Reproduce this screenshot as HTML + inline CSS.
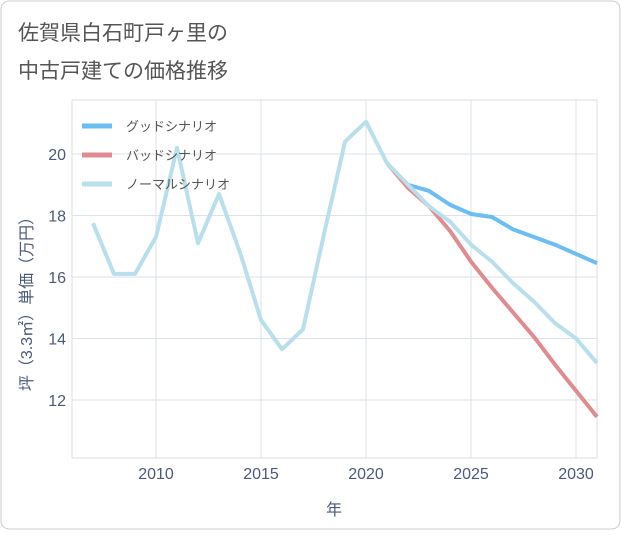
<!DOCTYPE html>
<html><head><meta charset="utf-8"><style>
body{margin:0;background:#fff;font-family:"Liberation Sans","Noto Sans CJK JP",sans-serif}
svg text{font-family:"Liberation Sans","Noto Sans CJK JP",sans-serif}
</style></head><body>
<svg id="c" width="621" height="530" xmlns="http://www.w3.org/2000/svg">
<rect x="1" y="1" width="619" height="528" rx="8" fill="#fff" stroke="#ccc"/>
<text x="18" y="40" font-size="21" fill="#555">佐賀県白石町戸ヶ里の</text>
<text x="18" y="78" font-size="21" fill="#555">中古戸建ての価格推移</text>
<rect x="72" y="100" width="525" height="358" fill="#fff" stroke="#ddd"/>
<g id="grid"></g><g id="series"></g>
<text x="334" y="515" font-size="16" fill="#4a5a78" text-anchor="middle">年</text>
<text transform="translate(32,300) rotate(-90)" font-size="16" fill="#4a5a78" text-anchor="middle">坪（3.3㎡）単価（万円）</text>
<g>
<line x1="82" y1="126" x2="112" y2="126" stroke="#6bbdf3" stroke-width="5"/>
<text x="126" y="131" font-size="13" fill="#555">グッドシナリオ</text>
<line x1="82" y1="155" x2="112" y2="155" stroke="#df8b8f" stroke-width="5"/>
<text x="126" y="160" font-size="13" fill="#555">バッドシナリオ</text>
<line x1="82" y1="184" x2="112" y2="184" stroke="#b9dfec" stroke-width="5"/>
<text x="126" y="189" font-size="13" fill="#555">ノーマルシナリオ</text>
</g>
</svg>
<script>
const normalYears=[2007,2008,2009,2010,2011,2012,2013,2014,2015,2016,2017,2018,2019,2020,2021,2022,2023,2024,2025,2026,2027,2028,2029,2030,2031];
const normalValues=[17.75,16.1,16.1,17.3,20.2,17.1,18.7,16.8,14.6,13.65,14.3,17.4,20.4,21.05,19.7,19.0,18.3,17.8,17.05,16.5,15.8,15.2,14.5,14.0,13.2];
const forecastYears=[2021,2022,2023,2024,2025,2026,2027,2028,2029,2030,2031];
const goodValues=[19.7,19.0,18.8,18.35,18.05,17.95,17.55,17.3,17.05,16.75,16.45];
const badValues=[19.7,18.9,18.3,17.5,16.5,15.65,14.85,14.05,13.15,12.3,11.45];
const xTicks=[2010,2015,2020,2025,2030];
const yTicks=[12,14,16,18,20];
const X=y=>156+(y-2010)*21;
const Y=v=>154+(20-v)*30.75;
const NS="http://www.w3.org/2000/svg";
const grid=document.getElementById('grid'),ser=document.getElementById('series');
function mk(tag,attrs,parent){const e=document.createElementNS(NS,tag);for(const k in attrs)e.setAttribute(k,attrs[k]);parent.appendChild(e);return e;}
xTicks.forEach(t=>{
 const l=mk('line',{x1:X(t),x2:X(t),y1:100,y2:458,stroke:'#dde3ea'},grid);
 
 
 const tx=mk('text',{x:X(t),y:479,'font-size':16,fill:'#4a5a78','text-anchor':'middle'},grid);tx.textContent=t;
 
 
});
yTicks.forEach(t=>{
 const l=mk('line',{x1:72,x2:597,y1:Y(t),y2:Y(t),stroke:'#dde3ea'},grid);
 
 
 const tx=mk('text',{x:66,y:Y(t)+6,'font-size':16,fill:'#4a5a78','text-anchor':'end'},grid);tx.textContent=t;
 
 
});
function line(xs,vs,color,name){
 const p=mk('polyline',{points:xs.map((x,i)=>X(x)+','+Y(vs[i])).join(' '),fill:'none',stroke:color,'stroke-width':4,'stroke-linejoin':'round'},ser);
 
 
}
line(forecastYears,goodValues,'#6bbdf3','good-scenario-line');
line(forecastYears,badValues,'#df8b8f','bad-scenario-line');
line(normalYears,normalValues,'#b9dfec','normal-scenario-line');
</script>
</body></html>
